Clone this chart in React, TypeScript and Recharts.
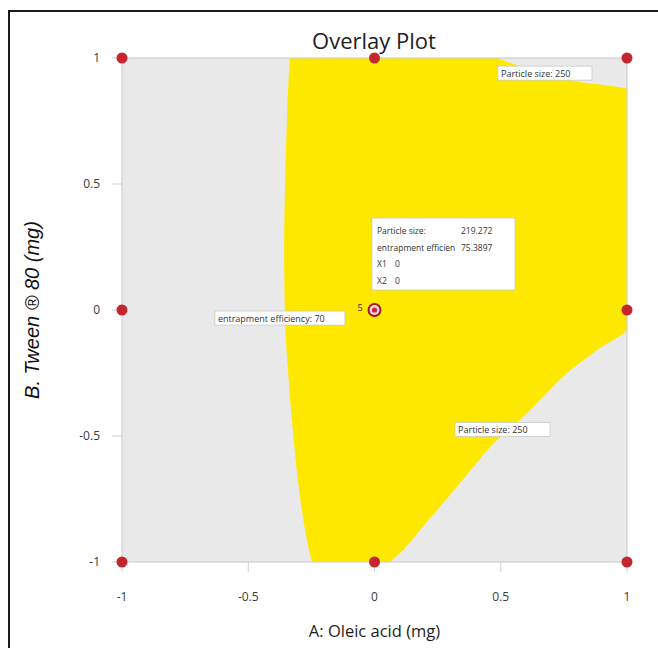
import {
  ComposedChart,
  Area,
  Scatter,
  XAxis,
  YAxis,
  CartesianGrid,
  ReferenceArea,
  ReferenceDot
} from 'recharts'

// ============================================
// DATA (coded levels)
// ============================================

// B levels (Tween 80) where the edges of the yellow window were read
const bLevels = [1, 0.968, 0.937, 0.905, 0.89, 0.877, 0.75, 0.5, 0.25, 0, -0.071, -0.151, -0.25, -0.357, -0.437, -0.516, -0.625, -0.734, -0.85, -0.964, -1]
// left edge: entrapment efficiency = 70 contour
const aLeft = [-0.335, -0.337, -0.339, -0.341, -0.341, -0.342, -0.347, -0.354, -0.358, -0.355, -0.353, -0.349, -0.342, -0.334, -0.327, -0.32, -0.309, -0.296, -0.279, -0.257, -0.248]
// right edge: particle size = 250 contours (and the A = 1 border)
const aRight = [0.485, 0.576, 0.695, 0.814, 0.93, 1, 1, 1, 1, 1, 1, 0.893, 0.762, 0.655, 0.576, 0.485, 0.39, 0.299, 0.2, 0.101, 0.061]

// design points (the centre point is drawn on its own)
const designA = [-1, 0, 1, -1, 1, -1, 0, 1]
const designB = [1, 1, 1, 0, 0, -1, -1, -1]
const centerA = [0]
const centerB = [0]
const centerReps = '5'

const axisTicks = [-1, -0.5, 0, 0.5, 1]

const contourTexts = ['Particle size: 250', 'Particle size: 250', 'entrapment efficiency: 70']
const contourA = [0.489, 0.319, -0.632]
const contourB = [0.94, -0.474, -0.032]

const flagNames = ['Particle size:', 'entrapment efficien', 'X1', 'X2']
const flagValues = ['219.272', '75.3897', '0', '0']
const flagA = -0.01
const flagB = 0.365

const regionData = bLevels.map((b, i) => ({ b, range: [aLeft[i], aRight[i]] }))
const designData = designA.map((a, i) => ({ a, b: designB[i] }))
const centerData = centerA.map((a, i) => ({ a, b: centerB[i] }))

// ============================================
// STYLES
// ============================================

const YELLOW = '#ffe800'
const GREY = '#e9e9ea'
const DOT = '#c4262e'
const FONT = '"Open Sans", "Noto Sans", sans-serif'
const contourWidths = [94, 95, 130]

const tickStyle = { fontSize: 12, fill: '#3a3a3a', fontFamily: FONT }

const LabelBox = ({ cx, cy, text, width }: any) => (
  <g>
    <rect x={cx} y={cy - 7} width={width} height={14} fill="#fff" stroke="#c4c4c4" strokeWidth={0.7} />
    <text x={cx + 3} y={cy + 3.5} fontSize={9} fontFamily={FONT} fill="#333">
      {text}
    </text>
  </g>
)

const FlagBox = ({ cx, cy }: any) => (
  <g>
    <rect x={cx} y={cy} width={143} height={72} fill="#fff" stroke="#c4c4c4" strokeWidth={0.7} />
    {flagNames.map((name, i) => (
      <g key={name}>
        <text x={cx + 5} y={cy + 16 + i * 16.5} fontSize={8.5} fontFamily={FONT} fill="#333">
          {name}
        </text>
        <text x={cx + (i < 2 ? 89 : 23)} y={cy + 16 + i * 16.5} fontSize={8.5} fontFamily={FONT} fill="#333">
          {flagValues[i]}
        </text>
      </g>
    ))}
  </g>
)

const CenterMark = ({ cx, cy }: any) => (
  <g>
    <text x={cx - 17} y={cy + 1} fontSize={9} fontFamily={FONT} fill="#333">
      {centerReps}
    </text>
    <circle cx={cx} cy={cy} r={7} fill="#9c1b1e" />
    <circle cx={cx} cy={cy} r={5} fill="#f6d3dc" />
    <circle cx={cx} cy={cy} r={2.6} fill="#c8283a" />
  </g>
)

export default function App() {
  return (
    <div
      style={{
        position: 'fixed',
        left: 8,
        top: 10,
        width: 680,
        height: 660,
        borderTop: '2px solid #1a1a1a',
        borderLeft: '2px solid #1a1a1a',
        boxSizing: 'border-box',
        background: '#fff'
      }}
    >
      <div
        style={{
          position: 'absolute',
          left: 264,
          top: 13,
          width: 200,
          textAlign: 'center',
          fontFamily: FONT,
          fontSize: 22,
          lineHeight: '30px',
          color: '#1e1e1e'
        }}
      >
        Overlay Plot
      </div>
      <ComposedChart
        layout="vertical"
        width={648}
        height={636}
        data={regionData}
        margin={{ top: 46, right: 31, left: 12, bottom: 6 }}
      >
        <CartesianGrid horizontal={false} vertical={false} fill={GREY} />
        <XAxis
          type="number"
          domain={[-1, 1]}
          ticks={axisTicks}
          height={80}
          axisLine={false}
          tickLine={{ stroke: '#d0d0d0' }}
          tickSize={10}
          tickMargin={20}
          tick={tickStyle}
          label={{
            value: 'A: Oleic acid (mg)',
            position: 'insideBottom',
            offset: 5,
            style: { fontSize: 16.5, fill: '#1e1e1e', fontFamily: FONT }
          }}
        />
        <YAxis
          type="number"
          dataKey="b"
          domain={[-1, 1]}
          reversed
          ticks={axisTicks}
          width={100}
          axisLine={false}
          tickLine={{ stroke: '#d0d0d0' }}
          tickSize={10}
          tickMargin={12}
          tick={tickStyle}
          label={{
            value: 'B. Tween \u00ae 80 (mg)',
            angle: -90,
            position: 'insideLeft',
            offset: 10,
            style: {
              textAnchor: 'middle',
              fontSize: 20,
              fontStyle: 'italic',
              fill: '#111',
              fontFamily: '"Liberation Sans", Arial, sans-serif'
            }
          }}
        />
        <Area
          type="monotone"
          dataKey="range"
          stroke="none"
          fill={YELLOW}
          fillOpacity={1}
          isAnimationActive={false}
          activeDot={false}
        />
        <ReferenceArea x1={-1} x2={1} y1={-1} y2={1} fill="none" stroke="#c8c8c8" strokeWidth={1} />
        {contourTexts.map((text, i) => (
          <ReferenceDot
            key={`c-${i}`}
            x={contourA[i]}
            y={contourB[i]}
            r={0}
            zIndex={1500}
            shape={(p: any) => <LabelBox cx={p.cx} cy={p.cy} text={text} width={contourWidths[i]} />}
          />
        ))}
        <ReferenceDot x={flagA} y={flagB} r={0} zIndex={1500} shape={(p: any) => <FlagBox cx={p.cx} cy={p.cy} />} />
        <Scatter data={designData} dataKey="a" fill={DOT} isAnimationActive={false} shape={(p: any) => <circle cx={p.cx} cy={p.cy} r={5.5} fill={DOT} />} />
        <Scatter data={centerData} dataKey="a" isAnimationActive={false} shape={(p: any) => <CenterMark cx={p.cx} cy={p.cy} />} />
      </ComposedChart>
    </div>
  )
}
